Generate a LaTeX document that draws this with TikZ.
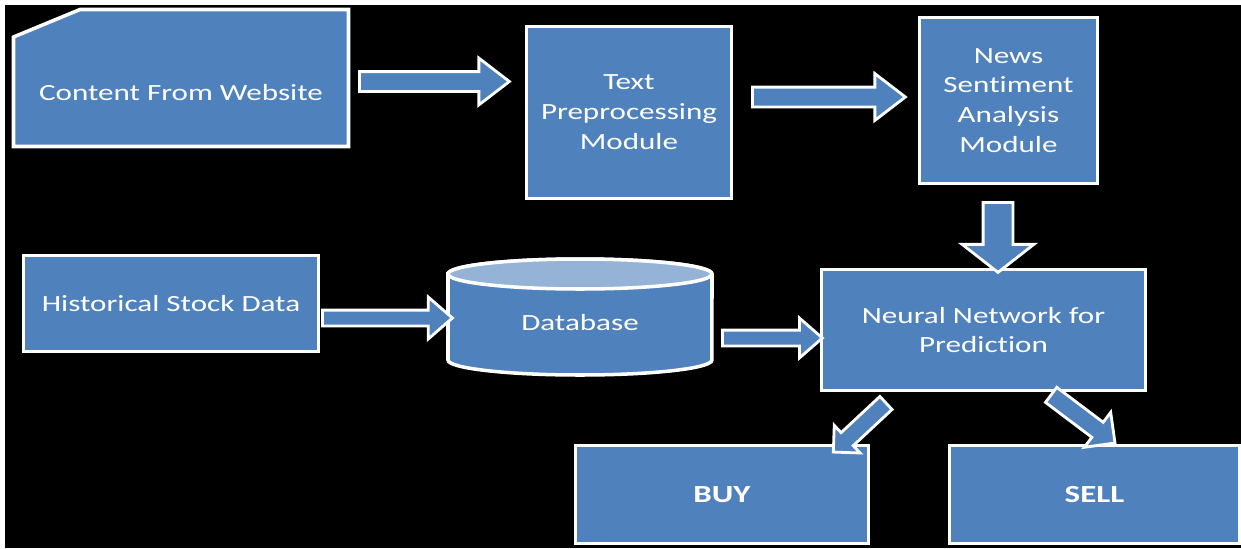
\documentclass[tikz,border=0pt]{standalone}
\usepackage{fontspec}
\setmainfont[FakeStretch=1.34, Ligatures=NoCommon]{Carlito}
\usetikzlibrary{shapes.arrows}

\definecolor{boxblue}{HTML}{4F81BD}
\definecolor{dbtop}{HTML}{95B3D7}

\begin{document}
\begin{tikzpicture}[x=0.02cm, y=-0.02cm,
    box/.style={draw=white, line width=2pt, fill=boxblue, text=white,
        align=center, inner sep=0pt, font=\fontsize{13.2}{17}\selectfont},
    boxtext/.style={text=white, align=center, inner sep=0pt,
        font=\fontsize{13.2}{17}\selectfont},
    decision/.style={box, font=\bfseries\fontsize{14}{17}\selectfont},
    blockarrow/.style={single arrow, draw=white, line width=1.6pt,
        fill=boxblue, inner xsep=0pt, single arrow head indent=0pt,
        anchor=tail}]

    \useasboundingbox (0,0) rectangle (1241,548);
    \fill[white] (0,0) rectangle (1241,548);
    \fill[black] (5,5) rectangle (1241,548);

    % top row
    \filldraw[fill=boxblue, draw=white, line width=2pt]
        (13.5,146.5) -- (13.5,37) -- (80,9.5) -- (348.5,9.5) -- (348.5,146.5) -- cycle;
    \node[boxtext] (web) at (181,93) {Content From Website};
    \node[box, minimum width=4.10cm, minimum height=3.44cm] (prep) at (629,112.5)
        {Text\\Preprocessing\\Module};
    \node[box, minimum width=3.56cm, minimum height=3.32cm] (news) at (1008.5,100.5)
        {News\\Sentiment\\Analysis\\Module};

    % middle row
    \node[box, minimum width=5.90cm, minimum height=1.92cm] (hist) at (171,303.5)
        {Historical Stock Data};
    \filldraw[fill=boxblue, draw=white, line width=2pt]
        (448,274) -- (448,360)
        arc[start angle=180, end angle=360, x radius=2.64cm, y radius=0.3cm]
        -- (712,274)
        arc[start angle=0, end angle=180, x radius=2.64cm, y radius=0.3cm] -- cycle;
    \filldraw[fill=dbtop, draw=white, line width=2pt]
        (580,274) ellipse[x radius=2.64cm, y radius=0.3cm];
    \node[boxtext] (db) at (580,323) {Database};
    \node[box, minimum width=6.48cm, minimum height=2.42cm] (net) at (983.5,330)
        {Neural Network for\\Prediction};

    % bottom row
    \node[decision, minimum width=5.86cm, minimum height=1.96cm] (buy) at (722,494.5) {BUY};
    \node[decision, minimum width=5.80cm, minimum height=1.96cm] (sell) at (1094.5,494.5) {SELL};

    % block arrows, placed by their tails
    \node[blockarrow, minimum height=3.0cm, inner ysep=0.17cm,
        single arrow head extend=0.27cm, single arrow tip angle=75] (a1) at (358,81.5) {};
    \node[blockarrow, minimum height=3.06cm, inner ysep=0.17cm,
        single arrow head extend=0.27cm, single arrow tip angle=75] (a2) at (751,97) {};
    \node[blockarrow, rotate=-90, minimum height=1.40cm, inner ysep=0.27cm,
        single arrow head extend=0.42cm, single arrow tip angle=104] (a3) at (998,201) {};
    \node[blockarrow, minimum height=2.6cm, inner ysep=0.13cm,
        single arrow head extend=0.26cm, single arrow tip angle=82] (a4) at (321,318) {};
    \node[blockarrow, minimum height=2.0cm, inner ysep=0.13cm,
        single arrow head extend=0.24cm, single arrow tip angle=82] (a5) at (721,338) {};
    \node[blockarrow, rotate=-137, minimum height=1.44cm, inner ysep=0.15cm,
        single arrow head extend=0.20cm, single arrow tip angle=90] (a6) at (887,402) {};
    \node[blockarrow, rotate=-37, minimum height=1.6cm, inner ysep=0.16cm,
        single arrow head extend=0.25cm, single arrow tip angle=90] (a7) at (1050,394) {};

\end{tikzpicture}
\end{document}
